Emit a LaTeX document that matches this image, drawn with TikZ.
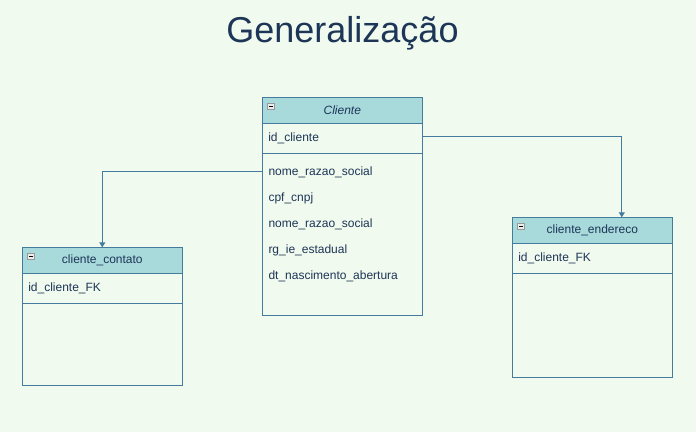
\documentclass[tikz,border=0pt]{standalone}
\usepackage{fontspec}
\setmainfont{Liberation Sans}
\usepackage{tikz}
\usetikzlibrary{positioning,arrows.meta}

\definecolor{bgcolor}{HTML}{F1FAEE}
\definecolor{headcolor}{HTML}{A8DADC}
\definecolor{linecolor}{HTML}{457B9D}
\definecolor{textcolor}{HTML}{1D3557}

\begin{document}
\begin{tikzpicture}[
x=1pt, y=-1pt,
headnode/.style={rectangle, draw=linecolor, fill=headcolor, line width=1pt, outer sep=0pt, minimum width=160pt, minimum height=26pt, inner sep=0pt, text=textcolor, font=\fontsize{12}{14}\selectfont},
rownode/.style={rectangle, draw=linecolor, fill=bgcolor, line width=1pt, outer sep=0pt, minimum width=160pt, minimum height=30pt, inner sep=6pt, text width=148pt, align=left, text=textcolor, font=\fontsize{12}{14}\selectfont},
bodynode/.style={rectangle, draw=linecolor, fill=bgcolor, line width=1pt, outer sep=0pt, minimum width=160pt, inner sep=0pt},
attrnode/.style={anchor=base west, inner sep=0pt, text=textcolor, font=\fontsize{12}{14}\selectfont},
iconnode/.style={rectangle, draw=gray!80, fill=gray!15, line width=0.6pt, minimum size=6.5pt, inner sep=0pt,
  path picture={\draw[black, line width=1.2pt] ([xshift=1.4pt]path picture bounding box.west) -- ([xshift=-1.4pt]path picture bounding box.east);}},
titlenode/.style={text=textcolor, font=\fontsize{36}{43}\selectfont},
conn/.style={draw=linecolor, line width=1pt, -{Triangle[width=6pt,length=5pt]}},
]
%Background
\fill[bgcolor] (0,0) rectangle (696,432);
\useasboundingbox (0,0) rectangle (696,432);

%Title
\node[titlenode] (title) at (342.5,33) {Generalização};

%Cliente
\node[headnode]      (clihead)   at (342.3,110.3)        {\itshape Cliente};
\node[rownode]       (cliid)     [below=0pt of clihead]  {id\_cliente};
\node[bodynode, minimum height=162pt] (clibody) [below=0pt of cliid] {};
\node[iconnode]      (cliicon)   at (271,106.3)          {};
\foreach \attr [count=\i] in {nome\_razao\_social, cpf\_cnpj, nome\_razao\_social, rg\_ie\_estadual, dt\_nascimento\_abertura}
  \node[attrnode] (cliattr\i) at (268.3,149+26*\i) {\attr};

%cliente_contato
\node[headnode]      (conhead)   at (102.3,260.3)        {cliente\_contato};
\node[rownode]       (conid)     [below=0pt of conhead]  {id\_cliente\_FK};
\node[bodynode, minimum height=82pt] (conbody) [below=0pt of conid] {};
\node[iconnode]      (conicon)   at (31,256.3)           {};

%cliente_endereco
\node[headnode]      (endhead)   at (592.3,230.3)        {cliente\_endereco};
\node[rownode]       (endid)     [below=0pt of endhead]  {id\_cliente\_FK};
\node[bodynode, minimum height=104pt] (endbody) [below=0pt of endid] {};
\node[iconnode]      (endicon)   at (521,226.3)          {};

%Lines
\draw[conn] (clibody.west |- cliattr1) -| (conhead.north);
\draw[conn] ([yshift=1.5pt]cliid.east) -| ([xshift=29.5pt]endhead.north);
\end{tikzpicture}
\end{document}
